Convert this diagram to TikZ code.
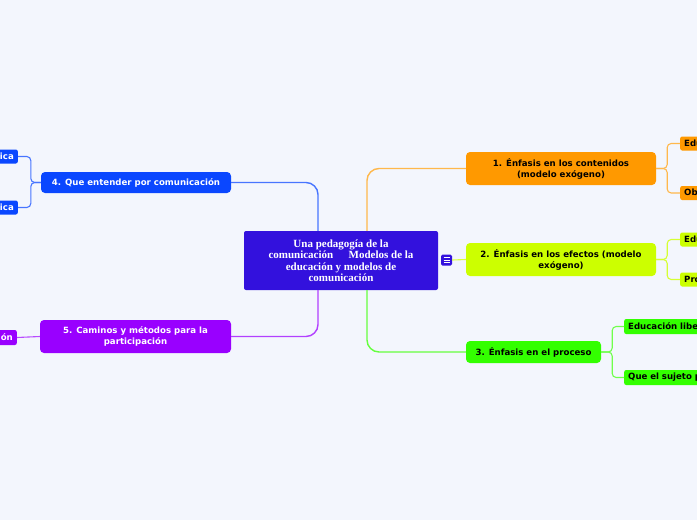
\documentclass[tikz,border=0pt]{standalone}
\usepackage{fontspec}
\setmainfont{DejaVu Sans}
\newfontfamily\titlefont{Liberation Serif}
\usepackage{tikz}
\usetikzlibrary{positioning}
\definecolor{bgpage}{HTML}{F3F6FD}
\definecolor{rootc}{HTML}{3311DD}
\definecolor{orangec}{HTML}{FF9900}
\definecolor{limec}{HTML}{CCFF00}
\definecolor{greenc}{HTML}{33FF00}
\definecolor{bluec}{HTML}{0A47FF}
\definecolor{purplec}{HTML}{9900FF}

\begin{document}
\begin{tikzpicture}[x=1pt, y=-1pt, every node/.style={align=center, inner sep=0pt, font=\bfseries\fontsize{8.6}{11}\selectfont},
  topic/.style={fill=#1, rounded corners=4pt, minimum width=190pt, minimum height=33pt},
  leafr/.style={fill=#1, rounded corners=2pt, anchor=west, align=left, text width=100pt, inner xsep=4pt, minimum height=14pt},
  leafl/.style={fill=#1, text=white, rounded corners=2pt, anchor=east, align=right, text width=40pt, inner xsep=4pt, minimum height=14pt},
  link/.style={draw=#1, line width=1.4pt, rounded corners=12pt},
  twig/.style={draw=#1, line width=1.1pt, rounded corners=4pt}]
\fill[bgpage] (0,0) rectangle (697,520);
\clip (0,0) rectangle (697,520);
\node[fill=rootc, text=white, rounded corners=2pt, minimum width=194pt, minimum height=59pt, font=\titlefont\bfseries\fontsize{11}{11.5}\selectfont] (root) at (341,260.5) {Una pedagogía de la\\comunicación\hspace{1.4em}Modelos de la\\educación y modelos de\\comunicación};
\node[fill=rootc, rounded corners=1.5pt, minimum size=11pt] (menu) at (446.5,260) {};
\foreach \dy in {-2.5,0,2.5}
  \draw[white, line width=0.9pt] ([xshift=-3pt, yshift=\dy pt]menu.center) -- ++(6pt,0);
\node[topic=orangec] (cont) at (561,168.5) {1. Énfasis en los contenidos\\(modelo exógeno)};
\node[topic=limec] (efec) at (561,259.5) {2. Énfasis en los efectos (modelo\\exógeno)};
\node[topic=greenc, minimum width=135pt, minimum height=22pt] (proc) at (533.5,352) {3. Énfasis en el proceso};
\node[topic=bluec, text=white, minimum height=21pt] (comu) at (136,182.5) {4. Que entender por comunicación};
\node[topic=purplec, text=white, minimum width=191pt] (cami) at (135.5,336.5) {5. Caminos y métodos para la\\participación};
% hojas, cortadas por el borde
\node[leafr=orangec] (contA) at (680,143.5) {Edu};
\node[leafr=orangec] (contB) at (680,193) {Obj};
\node[leafr=limec] (efecA) at (680,239.5) {Edu};
\node[leafr=limec] (efecB) at (680,279.5) {Pro};
\node[leafr=greenc, minimum height=15pt] (procA) at (624,326.5) {Educación libe};
\node[leafr=greenc, minimum height=15pt] (procB) at (624,377.5) {Que el sujeto p};
\node[leafl=bluec] (comuA) at (18,156.5) {ica};
\node[leafl=bluec] (comuB) at (18,207.5) {tica};
\node[leafl=purplec, minimum height=15pt] (camiA) at (17,337.5) {ón};
% ramas principales
\draw[link=bluec!75!white] ([xshift=-23pt]root.north) |- (comu.east);
\draw[link=orangec!70!white] ([xshift=26pt]root.north) |- (cont.west);
\draw[link=greenc!75!white] ([xshift=26pt]root.south) |- (proc.west);
\draw[link=purplec!75!white] ([xshift=-23pt]root.south) |- (cami.east);
\draw[link=limec!75!white, line width=1.1pt] (menu.east) -- (efec.west);
% ramas de las hojas
\draw[twig=orangec!70!white] (cont.east) -- ++(11,0) |- (contA.west);
\draw[twig=orangec!70!white] (cont.east) -- ++(11,0) |- (contB.west);
\draw[twig=limec!80!white] (efec.east) -- ++(11,0) |- (efecA.west);
\draw[twig=limec!80!white] (efec.east) -- ++(11,0) |- (efecB.west);
\draw[twig=greenc!70!white] (proc.east) -- ++(11,0) |- (procA.west);
\draw[twig=greenc!70!white] (proc.east) -- ++(11,0) |- (procB.west);
\draw[twig=bluec!75!white] (comu.west) -- ++(-10,0) |- (comuA.east);
\draw[twig=bluec!75!white] (comu.west) -- ++(-10,0) |- (comuB.east);
\draw[twig=purplec!70!white] (cami.west) -- (camiA.east);
\end{tikzpicture}
\end{document}
